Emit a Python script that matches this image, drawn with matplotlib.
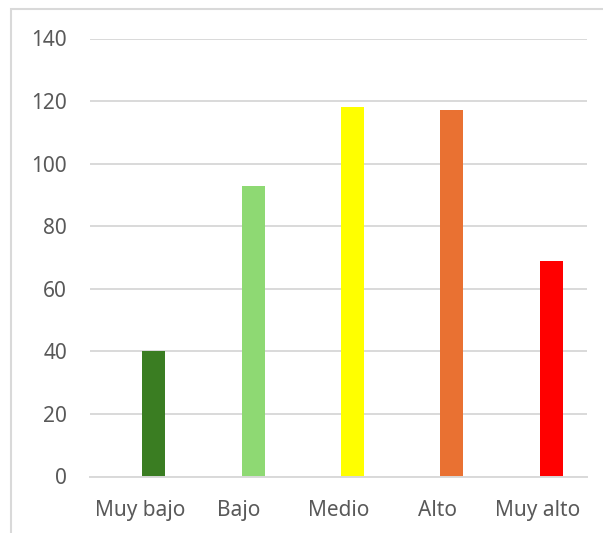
import matplotlib
matplotlib.use("Agg")
import matplotlib.pyplot as plt
from matplotlib.patches import Rectangle

categories = ["Muy bajo", "Bajo", "Medio", "Alto", "Muy alto"]
values = [40, 93, 118, 117, 69]
colors = ["#3A7D22", "#8ED973", "#FFFF00", "#E97132", "#FF0000"]
yticks = [0, 20, 40, 60, 80, 100, 120, 140]

plt.rcParams['font.family'] = ['Noto Sans', 'DejaVu Sans']

W, H = 603, 533
fig = plt.figure(figsize=(W / 100, H / 100), dpi=100)
fig.patch.set_facecolor("white")

# outer chart border (cropped at right/bottom)
fig.patches.append(Rectangle((11 / W, -0.1), 2.0, (H - 9) / H + 0.1,
                             transform=fig.transFigure, fill=False,
                             edgecolor="#D9D9D9", linewidth=1.5))

left, right = 90 / W, 587 / W
bottom, top = (H - 476.5) / H, (H - 38.5) / H
ax = fig.add_axes([left, bottom, right - left, top - bottom])

x = list(range(len(categories)))
bar_offset = 0.141  # bars sit right of category centre, as in the original
ax.bar([i + bar_offset for i in x], values, width=0.231, color=colors, zorder=3)

ax.set_xlim(-0.5, len(categories) - 0.5)
ax.set_ylim(0, 140)
ax.set_yticks(yticks)
ax.set_xticks(x)
ax.set_xticklabels(categories)

for s in ["top", "right", "left"]:
    ax.spines[s].set_visible(False)
ax.spines["bottom"].set_color("#D9D9D9")
ax.spines["bottom"].set_linewidth(1.4)
ax.spines["bottom"].set_zorder(4)

ax.grid(axis="y", color="#D9D9D9", linewidth=1.4, zorder=0)
ax.tick_params(axis="both", length=0, labelsize=15, labelcolor="#595959")
ax.tick_params(axis="y", pad=16.5)
ax.tick_params(axis="x", pad=17)

fig.savefig("out.png", dpi=100, facecolor="white")
